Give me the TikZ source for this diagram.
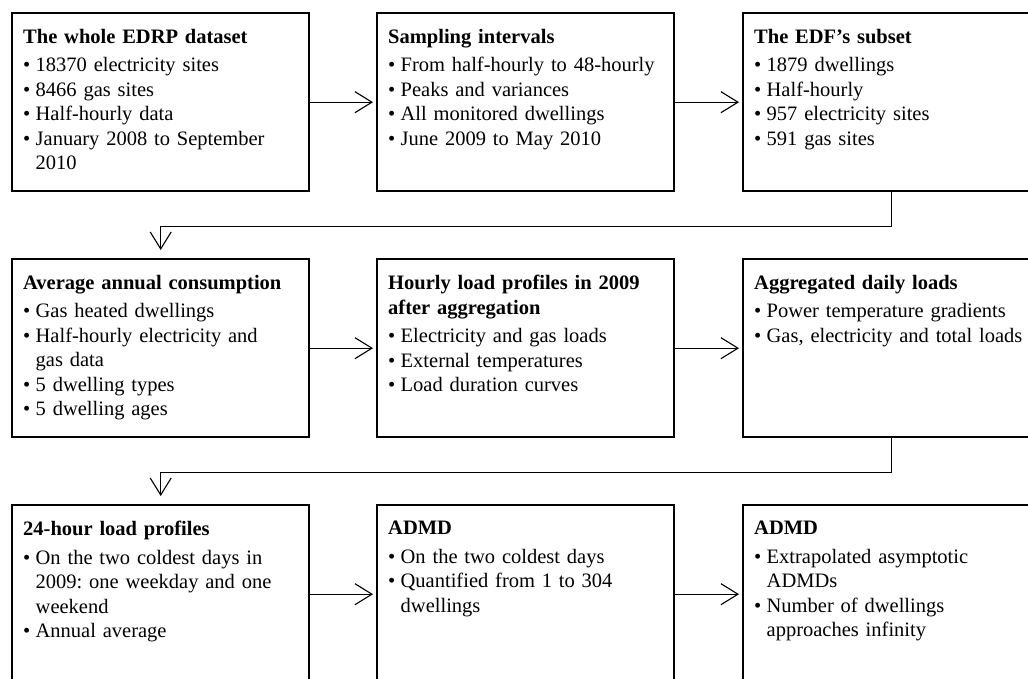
\documentclass[tikz,border=0pt]{standalone}
\usepackage{fontspec}
\setmainfont{Liberation Serif}
\usetikzlibrary{arrows.meta,calc}
\newcommand\hd[1]{\textbf{#1}\par\vspace{4pt}}
\newcommand\itm[1]{\par\hangindent=12.5pt\hangafter=1\noindent\makebox[12.5pt][l]{\textbullet}#1\par}
\tikzset{
  box/.style={draw, line width=2.4pt, minimum width=297pt, minimum height=178pt, inner sep=0pt, anchor=north west},
  txt/.style={anchor=north west, inner sep=0pt, text width=285pt, align=left, font=\fontsize{20.5}{24.5}\selectfont\frenchspacing},
  conn/.style={line width=1.1pt, -{Straight Barb[length=17pt,width=21pt,line width=1.1pt]}, shorten >=3pt},
  turnconn/.style={line width=1.1pt, -{Straight Barb[length=17pt,width=21pt,line width=1.1pt]}, shorten >=8pt},
}
\begin{document}
\begin{tikzpicture}[x=1pt,y=1pt]
\useasboundingbox (0,0) rectangle (1028,679);
% boxes
\node[box] (b1) at (11,667) {};
\node[box] (b2) at (376,667) {};
\node[box] (b3) at (742,667) {};
\node[box] (b4) at (11,421) {};
\node[box] (b5) at (376,421) {};
\node[box] (b6) at (742,421) {};
\node[box] (b7) at (11,175) {};
\node[box] (b8) at (376,175) {};
\node[box] (b9) at (742,175) {};
% texts
\node[txt] (t1) at ($(b1.north west)+(12,-17)$) {\hd{The whole EDRP dataset}\itm{18370 electricity sites}\itm{8466 gas sites}\itm{Half-hourly data}\itm{January 2008 to September\newline 2010}};
\node[txt] (t2) at ($(b2.north west)+(12,-17)$) {\hd{Sampling intervals}\itm{From half-hourly to 48-hourly}\itm{Peaks and variances}\itm{All monitored dwellings}\itm{June 2009 to May 2010}};
\node[txt] (t3) at ($(b3.north west)+(12,-17)$) {\hd{The EDF's subset}\itm{1879 dwellings}\itm{Half-hourly}\itm{957 electricity sites}\itm{591 gas sites}};
\node[txt] (t4) at ($(b4.north west)+(12,-17)$) {\hd{Average annual consumption}\itm{Gas heated dwellings}\itm{Half-hourly electricity and\newline gas data}\itm{5 dwelling types}\itm{5 dwelling ages}};
\node[txt] (t5) at ($(b5.north west)+(12,-17)$) {\textbf{Hourly load profiles in 2009\newline after aggregation}\par\vspace{4pt}\itm{Electricity and gas loads}\itm{External temperatures}\itm{Load duration curves}};
\node[txt] (t6) at ($(b6.north west)+(12,-17)$) {\hd{Aggregated daily loads}\itm{Power temperature gradients}\itm{Gas, electricity and total loads}};
\node[txt] (t7) at ($(b7.north west)+(12,-17)$) {\hd{24-hour load profiles}\itm{On the two coldest days in\newline 2009: one weekday and one\newline weekend}\itm{Annual average}};
\node[txt] (t8) at ($(b8.north west)+(12,-17)$) {\hd{ADMD}\itm{On the two coldest days}\itm{Quantified from 1 to 304\newline dwellings}};
\node[txt] (t9) at ($(b9.north west)+(12,-17)$) {\hd{ADMD}\itm{Extrapolated asymptotic\newline ADMDs}\itm{Number of dwellings\newline approaches infinity}};
% connectors
\draw[conn] (b1.east) -- (b2.west);
\draw[conn] (b2.east) -- (b3.west);
\draw[conn] (b4.east) -- (b5.west);
\draw[conn] (b5.east) -- (b6.west);
\draw[conn] (b7.east) -- (b8.west);
\draw[conn] (b8.east) -- (b9.west);
\coordinate (m1) at ($(b3.south)+(0,-34)$);
\coordinate (m2) at ($(b6.south)+(0,-34)$);
\draw[turnconn] (b3.south) -- (m1) -| (b4.north);
\draw[turnconn] (b6.south) -- (m2) -| (b7.north);
\end{tikzpicture}
\end{document}
